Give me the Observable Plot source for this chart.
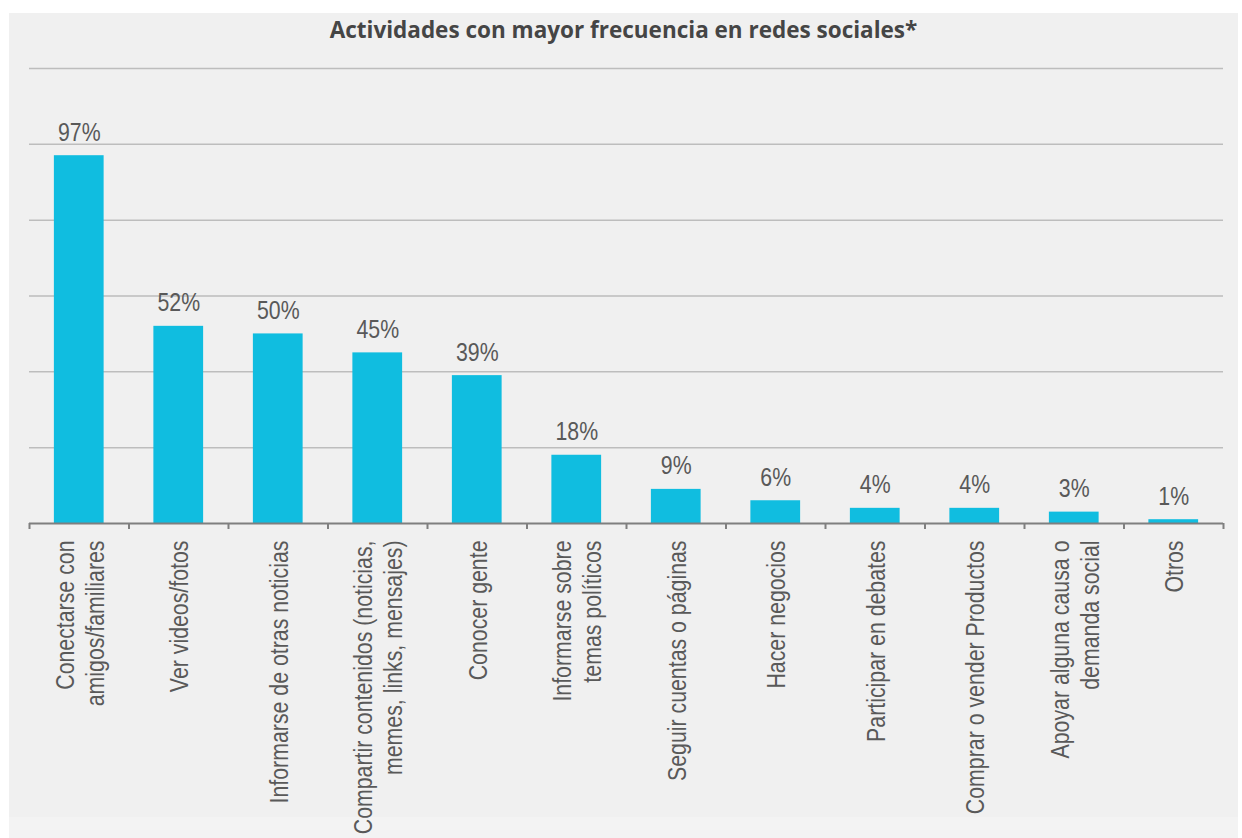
<!DOCTYPE html>
<html>
<head>
<meta charset="utf-8">
<script src="https://cdn.jsdelivr.net/npm/d3@7"></script>
<script src="https://cdn.jsdelivr.net/npm/@observablehq/plot@0.6"></script>
<style>
  html, body { margin: 0; padding: 0; background: #ffffff; }
  #wrap { position: absolute; left: 9px; top: 13px; width: 1229px; height: 825px; background: #f0f0f0; overflow: hidden; }
  #foot { position: absolute; left: 0; top: 804px; width: 1229px; height: 21px; background: #f3f3f3; }
  #title { position: absolute; left: 0; top: 3px; width: 1229px; text-align: center; font-family: "Open Sans", sans-serif; font-weight: 700; font-size: 22.5px; line-height: 28px; color: #454545; }
  #chart { position: absolute; left: 0; top: 37px; }
</style>
</head>
<body>
<div id="wrap">
  <div id="foot"></div>
  <div id="title">Actividades con mayor frecuencia en redes sociales*</div>
  <div id="chart"></div>
</div>
<script>
const categories = [
  "Conectarse con\namigos/familiares",
  "Ver videos/fotos",
  "Informarse de otras noticias",
  "Compartir contenidos (noticias,\nmemes, links, mensajes)",
  "Conocer gente",
  "Informarse sobre\ntemas políticos",
  "Seguir cuentas o páginas",
  "Hacer negocios",
  "Participar en debates",
  "Comprar o vender Productos",
  "Apoyar alguna causa o\ndemanda social",
  "Otros"
];
const values = [97, 52, 50, 45, 39, 18, 9, 6, 4, 4, 3, 1];
const gridTicks = [20, 40, 60, 80, 100, 120];

const data = categories.map((c, i) => ({category: c, value: values[i]}));

const W = 1229, H = 788, ML = 20, MR = 15, MT = 18, MB = 315;
const step = (W - ML - MR) / categories.length;
const font = "'Liberation Sans', Arial, sans-serif";
const narrow = 0.82;

const chart = Plot.plot({
  width: W,
  height: H,
  marginLeft: ML,
  marginRight: MR,
  marginTop: MT,
  marginBottom: MB,
  style: {background: "transparent", fontFamily: font},
  x: {domain: categories, paddingInner: 0.5, paddingOuter: 0.25, round: false, axis: null},
  y: {domain: [0, 120], axis: null},
  marks: [
    Plot.ruleY(gridTicks, {stroke: "#bdbdbd", strokeWidth: 1.5}),
    Plot.barY(data, {x: "category", y: "value", fill: "#10bde0"}),
    Plot.ruleY([0], {stroke: "#7f7f7f", strokeWidth: 2}),
    Plot.ruleX(categories, {x: d => d, y1: 0, y2: 0, insetBottom: -6, dx: -step / 2, stroke: "#7f7f7f", strokeWidth: 2}),
    Plot.ruleX(categories.slice(-1), {x: d => d, y1: 0, y2: 0, insetBottom: -6, dx: step / 2, stroke: "#7f7f7f", strokeWidth: 2}),
    Plot.text(data, {x: "category", y: "value", text: d => d.value + "%", lineAnchor: "bottom", dy: -15, fontSize: 26, fill: "#595959", fontFamily: font}),
    Plot.text(data, {x: "category", y: 0, text: "category", rotate: -90, textAnchor: "end", lineAnchor: "middle", lineHeight: 1.15, dy: 17, fontSize: 26, fill: "#595959", fontFamily: font})
  ]
});
// condense the text horizontally (along reading direction) to mimic a narrow face
d3.select(chart).selectAll("text").each(function() {
  const t = this.getAttribute("transform") || "";
  this.setAttribute("transform", t + ` scale(${narrow},1)`);
});
document.getElementById("chart").appendChild(chart);
</script>
</body>
</html>
